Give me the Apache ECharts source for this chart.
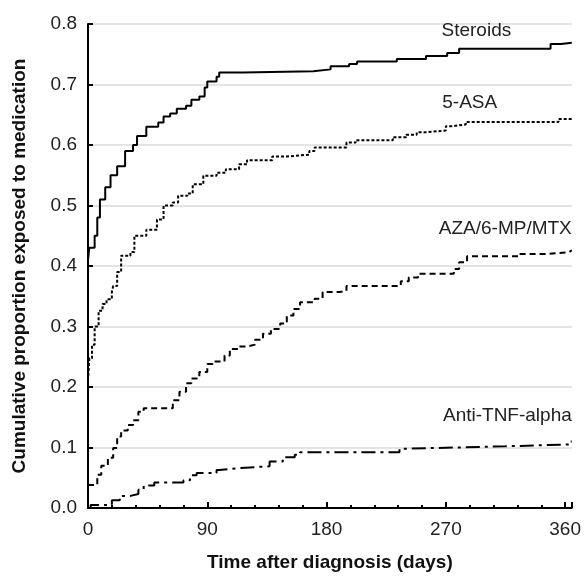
<!DOCTYPE html>
<html>
<head>
<meta charset="utf-8">
<script src="https://cdn.jsdelivr.net/npm/echarts@6/dist/echarts.min.js"></script>
<style>
html,body{margin:0;padding:0;background:#fff;}
#main{width:584px;height:577px;}
</style>
</head>
<body>
<div id="main"></div>
<script>
// cumulative proportion exposed, [day, proportion]
var steroids = [[0,0.41],[1,0.43],[5,0.45],[7,0.48],[9,0.51],[13,0.53],[17,0.55],[22,0.565],[28,0.59],[34,0.60],[37,0.615],[44,0.63],[53,0.637],[57,0.647],[62,0.652],[67,0.66],[74,0.665],[78,0.675],[84,0.68],[88,0.695],[90,0.705],[97,0.713],[99,0.72],[117,0.722],[170,0.725],[183,0.73],[197,0.734],[203,0.738],[233,0.742],[255,0.747],[271,0.752],[280,0.759],[349,0.767],[357,0.769],[365,0.77]];
var asa5 = [[0,0.21],[1,0.247],[3,0.27],[5,0.30],[8,0.326],[11,0.337],[14,0.345],[18,0.357],[19,0.367],[22,0.39],[25,0.417],[32,0.423],[35,0.45],[44,0.46],[52,0.477],[57,0.5],[64,0.505],[68,0.516],[75,0.52],[79,0.535],[87,0.549],[97,0.554],[104,0.56],[114,0.568],[120,0.575],[139,0.581],[150,0.584],[167,0.59],[171,0.596],[195,0.604],[202,0.608],[230,0.613],[240,0.617],[248,0.621],[255,0.624],[270,0.631],[275,0.634],[285,0.638],[355,0.643],[365,0.643]];
var aza = [[0,0.038],[7,0.055],[10,0.07],[15,0.083],[19,0.099],[22,0.118],[25,0.128],[30,0.137],[34,0.145],[38,0.159],[42,0.165],[64,0.178],[69,0.192],[74,0.206],[78,0.214],[84,0.225],[90,0.238],[94,0.242],[103,0.252],[107,0.263],[114,0.267],[120,0.27],[126,0.278],[132,0.288],[138,0.296],[145,0.305],[150,0.318],[155,0.329],[160,0.34],[171,0.346],[177,0.357],[190,0.359],[195,0.367],[236,0.375],[242,0.381],[249,0.387],[276,0.395],[280,0.406],[286,0.416],[325,0.42],[348,0.423],[363,0.426],[365,0.426]];
var antiTnf = [[0,0],[2,0.005],[18,0.013],[24,0.02],[32,0.023],[38,0.03],[42,0.037],[50,0.042],[72,0.046],[77,0.054],[82,0.058],[97,0.063],[99,0.066],[114,0.069],[137,0.077],[147,0.084],[156,0.088],[160,0.092],[235,0.098],[240,0.1],[278,0.102],[315,0.105],[363,0.11],[365,0.11]];

var names = ['Steroids','5-ASA','AZA/6-MP/MTX','Anti-TNF-alpha'];
// where each curve's name sits, in data coords [day, proportion]
var labelAt = [[293,0.789],[288,0.67],[365,0.461],[365,0.153]];
var labelAlign = ['center','center','right','right'];

var FONT = '"Liberation Sans", Arial, sans-serif';

function mk(name, data, dash){
    return {
        name:name, type:'line', step:'end', data:data,
        showSymbol:false, silent:true,
        lineStyle:{color:'#000', width:2, type:dash}
    };
}

var myChart = echarts.init(document.getElementById('main'));
myChart.setOption({
    animation:false,
    grid:{left:88, right:11, top:24, bottom:67},
    xAxis:{
        type:'value', min:0, max:365, interval:90,
        name:'Time after diagnosis (days)', nameLocation:'middle', nameGap:45,
        nameTextStyle:{fontFamily:FONT, fontWeight:'bold', fontSize:19, color:'#111'},
        axisLine:{lineStyle:{color:'#000', width:2}},
        axisTick:{inside:true, length:6, lineStyle:{color:'#000', width:2}},
        minorTick:{show:true, splitNumber:5, length:3, lineStyle:{color:'#000', width:2}},
        axisLabel:{fontFamily:FONT, fontSize:19, color:'#222', margin:12,
            formatter:function(v){ return v>360 ? '' : v; }},
        splitLine:{show:false}
    },
    yAxis:{
        type:'value', min:0, max:0.8, interval:0.1,
        name:'Cumulative proportion exposed to medication', nameLocation:'middle', nameGap:59,
        nameTextStyle:{fontFamily:FONT, fontWeight:'bold', fontSize:19, color:'#111'},
        axisLine:{show:true, lineStyle:{color:'#000', width:2}},
        axisTick:{show:true, inside:true, length:5, lineStyle:{color:'#000', width:2}},
        axisLabel:{fontFamily:FONT, fontSize:19, color:'#222', margin:11,
            formatter:function(v){ return v.toFixed(1); }},
        splitLine:{lineStyle:{color:'#e4e4e4', width:2}}
    },
    series:[
        mk(names[0], steroids, 'solid'),
        mk(names[1], asa5, [3,2]),
        mk(names[2], aza, [6,4]),
        mk(names[3], antiTnf, [14,5,3,5])
    ]
});

var g = [];
for (var i = 0; i < names.length; i++) {
    var p = myChart.convertToPixel({gridIndex:0}, labelAt[i]);
    g.push({
        type:'text', x:p[0], y:p[1],
        style:{text:names[i], fontFamily:FONT, fontSize:19, fill:'#222',
            align:labelAlign[i], verticalAlign:'middle'}
    });
}
myChart.setOption({graphic:g});
</script>
</body>
</html>
